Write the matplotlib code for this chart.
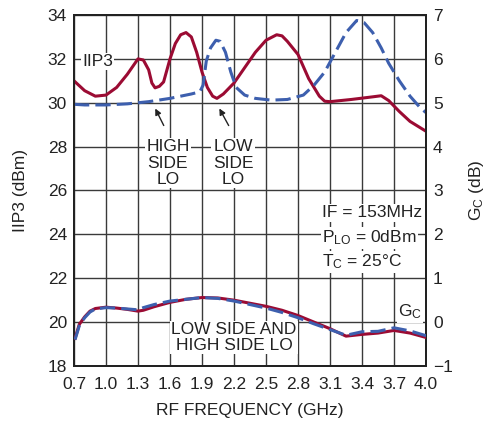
import numpy as np
import matplotlib.pyplot as plt

plt.rcParams['font.family'] = ['Liberation Sans', 'DejaVu Sans']
plt.rcParams['mathtext.default'] = 'regular'

RED = '#9b0b33'
BLUE = '#3d5fae'

# IIP3, dBm (left axis)
iip3_low_f = [0.70, 0.80, 0.90, 1.00, 1.10, 1.20, 1.30, 1.35, 1.40, 1.43, 1.46, 1.50, 1.54,
              1.60, 1.65, 1.70, 1.75, 1.80, 1.85, 1.90, 1.95, 2.00, 2.04, 2.10, 2.20, 2.30,
              2.40, 2.50, 2.60, 2.65, 2.70, 2.80, 2.90, 3.00, 3.05, 3.10, 3.30, 3.50, 3.58,
              3.65, 3.75, 3.85, 3.95, 4.00]
iip3_low = [31.0, 30.55, 30.3, 30.35, 30.7, 31.3, 32.0, 31.95, 31.5, 30.9, 30.68, 30.75, 30.95,
            32.0, 32.7, 33.1, 33.2, 33.0, 32.3, 31.4, 30.7, 30.3, 30.2, 30.4, 30.9, 31.6,
            32.3, 32.85, 33.1, 33.05, 32.8, 32.2, 31.1, 30.3, 30.07, 30.05, 30.15, 30.27, 30.32,
            30.1, 29.6, 29.15, 28.85, 28.7]

iip3_high_f = [0.70, 0.80, 1.00, 1.20, 1.40, 1.60, 1.80, 1.88, 1.91, 1.94, 1.98, 2.03, 2.07,
               2.12, 2.17, 2.22, 2.30, 2.40, 2.55, 2.70, 2.85, 2.95, 3.05, 3.15, 3.25, 3.35,
               3.42, 3.50, 3.58, 3.65, 3.75, 3.85, 3.95, 4.00]
iip3_high = [29.93, 29.9, 29.9, 29.95, 30.05, 30.2, 30.4, 30.5, 30.8, 31.9, 32.5, 32.85, 32.8,
             32.3, 31.4, 30.7, 30.35, 30.2, 30.12, 30.15, 30.35, 30.8, 31.4, 32.3, 33.2, 33.75,
             33.65, 33.2, 32.5, 31.8, 31.0, 30.3, 29.75, 29.55]

# conversion gain, dB (right axis)
gc_f = [0.71, 0.75, 0.80, 0.85, 0.90, 1.00, 1.10, 1.20, 1.30, 1.35, 1.45, 1.60, 1.75, 1.90,
        2.05, 2.20, 2.35, 2.50, 2.65, 2.80, 2.95, 3.10, 3.25, 3.40, 3.55, 3.70, 3.85, 4.00]
gc_low = [-0.37, -0.05, 0.12, 0.25, 0.31, 0.34, 0.32, 0.29, 0.25, 0.27, 0.35, 0.45, 0.52, 0.56,
          0.55, 0.50, 0.43, 0.36, 0.27, 0.15, 0.0, -0.15, -0.32, -0.28, -0.25, -0.19, -0.25, -0.35]
gc_high = [-0.4, -0.08, 0.10, 0.23, 0.30, 0.33, 0.32, 0.30, 0.28, 0.33, 0.40, 0.48, 0.52, 0.56,
           0.54, 0.48, 0.40, 0.32, 0.22, 0.10, -0.04, -0.17, -0.30, -0.22, -0.21, -0.13, -0.20, -0.31]

fig = plt.figure(figsize=(4.92, 4.23), dpi=100)
ax = fig.add_axes([0.1504, 0.1348, 0.7155, 0.8297])
ax2 = ax.twinx()

ax.set_xlim(0.7, 4.0)
ax.set_ylim(18, 34)
ax2.set_ylim(-1, 7)
xt = np.round(np.arange(0.7, 4.01, 0.3), 1)
ax.set_xticks(xt)
ax.set_xticklabels([f'{v:.1f}' for v in xt])
ax.set_yticks(np.arange(18, 35, 2))
ax2.set_yticks(np.arange(-1, 8, 1))
ax2.set_yticklabels(['\u22121'] + [str(v) for v in range(0, 8)])

ax.grid(True, color='#3a3a3a', linewidth=1.0)
ax.set_axisbelow(True)
fs = 12.5
for a in (ax, ax2):
    a.tick_params(length=0, labelsize=fs, colors='#222222', pad=5)
    for s in a.spines.values():
        s.set_linewidth(1.4)
        s.set_color('#222222')
ax.tick_params(axis='x', pad=8)

lw = 2.2
dash = (5, 2)
ax.plot(iip3_low_f, iip3_low, color=RED, lw=lw, zorder=3)
ax.plot(iip3_high_f, iip3_high, color=BLUE, lw=lw, dashes=dash, zorder=4)
ax2.plot(gc_f, gc_low, color=RED, lw=lw, zorder=3)
ax2.plot(gc_f, gc_high, color=BLUE, lw=lw, dashes=dash, zorder=4)

ax.set_xlabel('RF FREQUENCY (GHz)', fontsize=fs, color='#222222', labelpad=8)
ax.set_ylabel('IIP3 (dBm)', fontsize=fs, color='#222222', labelpad=14)
ax2.set_ylabel('G$_C$ (dB)', fontsize=fs, color='#222222', rotation=90, labelpad=10)

box = dict(facecolor='white', edgecolor='none', pad=1.0)
tk = dict(fontsize=fs, color='#222222', bbox=box, zorder=5)
ax.text(0.92, 31.88, 'IIP3', ha='center', va='center', **tk)
ax.text(1.58, 27.25, 'HIGH\nSIDE\nLO', ha='center', va='center', linespacing=1.1, **tk)
ax.text(2.19, 27.25, 'LOW\nSIDE\nLO', ha='center', va='center', linespacing=1.1, **tk)
ax.text(2.2, 19.3, 'LOW SIDE AND\nHIGH SIDE LO', ha='center', va='center', linespacing=1.05, **tk)
ax2.text(3.025, 2.49, 'IF = 153MHz', ha='left', va='center', **tk)
ax2.text(3.025, 1.92, 'P$_{LO}$ = 0dBm', ha='left', va='center', **tk)
ax2.text(3.025, 1.37, 'T$_C$ = 25°C', ha='left', va='center', **tk)
ax2.text(3.85, 0.23, 'G$_C$', ha='center', va='center', **tk)

arr = dict(arrowstyle='-|>', color='#222222', lw=1.0, mutation_scale=9)
ax.annotate('', xy=(1.45, 29.85), xytext=(1.553, 28.85), arrowprops=arr, zorder=6)
ax.annotate('', xy=(2.05, 29.85), xytext=(2.1625, 28.85), arrowprops=arr, zorder=6)

fig.savefig('out.png', dpi=100)
